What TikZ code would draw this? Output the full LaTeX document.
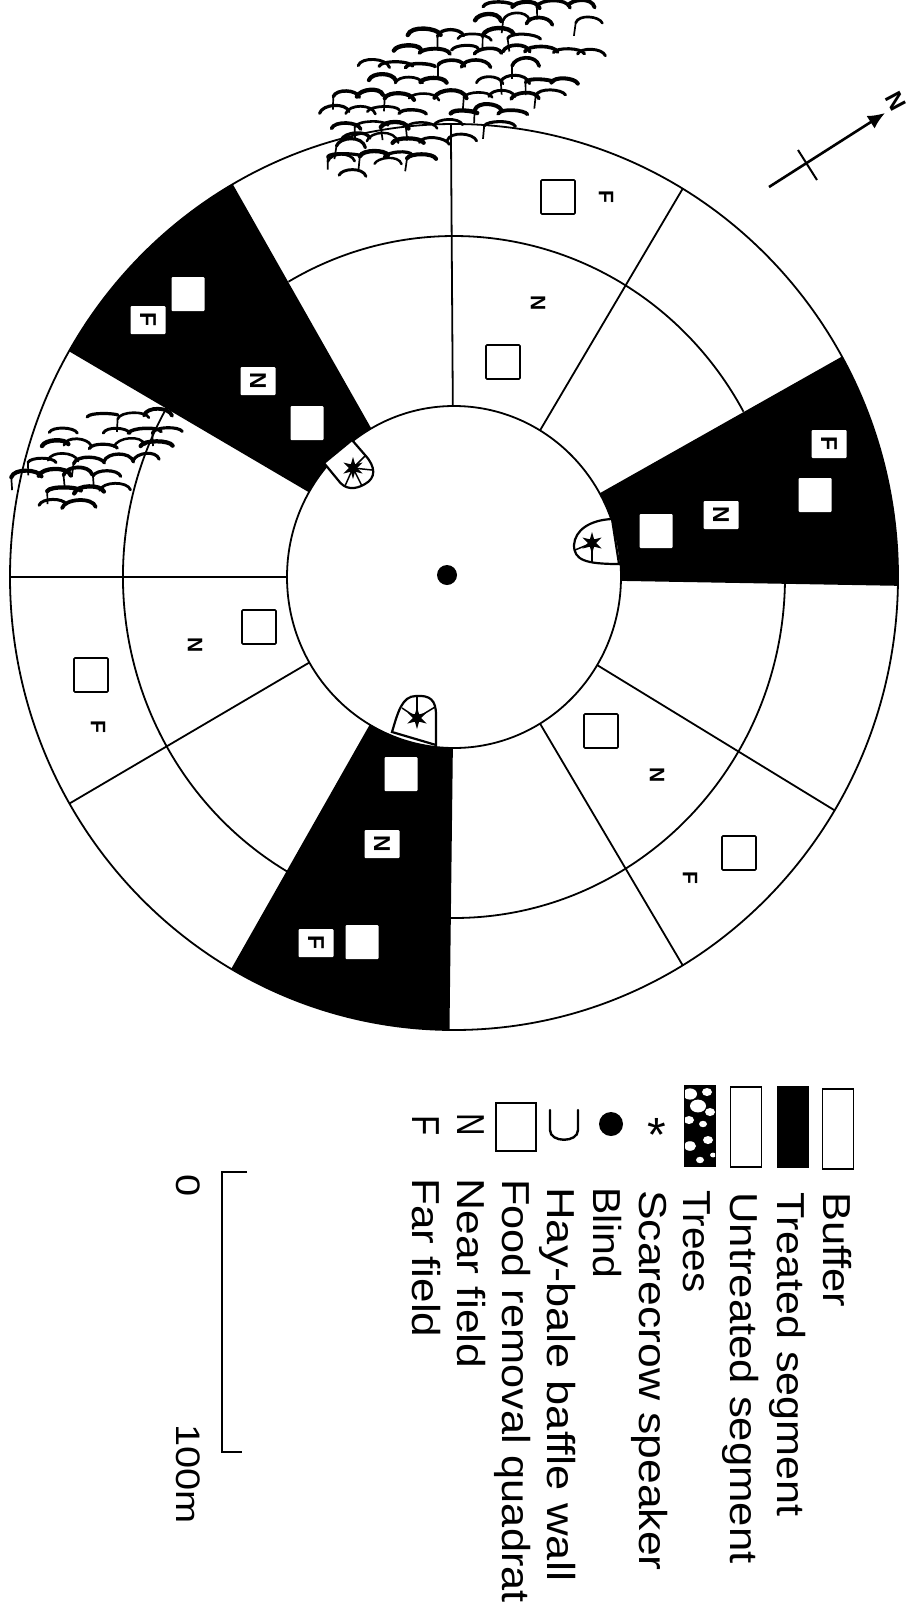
\documentclass[tikz,border=0pt]{standalone}
\usepackage{fontspec}
\setmainfont{Liberation Sans}
\usetikzlibrary{positioning, arrows.meta, shapes.geometric}
\newcommand{\annseg}[2]{% black annular sector between two angles
  \fill (#1:167 and 171) -- (#1:444 and 453)
    arc[start angle=#1, end angle=#2, x radius=444, y radius=453]
    -- (#2:167 and 171)
    arc[start angle=#2, end angle=#1, x radius=167, y radius=171] -- cycle;}
\newcommand{\treeclump}[5]{% centre x, centre y, long, short, angle
  \begin{scope}[shift={(#1,#2)}]
  \foreach \r in {-6,...,6}{
    \foreach \c in {-7,...,7}{
      \pgfmathsetmacro{\u}{26*\c+13*mod(abs(\r),2)}
      \pgfmathsetmacro{\v}{15*\r}
      \pgfmathsetmacro{\ca}{(\u*cos(#5)+\v*sin(#5))/#3}
      \pgfmathsetmacro{\cb}{(-\u*sin(#5)+\v*cos(#5))/#4}
      \pgfmathtruncatemacro{\inside}{(\ca*\ca+\cb*\cb<1)?1:0}
      \pgfmathtruncatemacro{\kind}{7*rnd}
      \ifnum\inside=1
      \ifnum\kind>0
        \pgfmathsetmacro{\ux}{\u+3*rand}
        \pgfmathsetmacro{\vy}{\v+2*rand}
        \pgfmathsetmacro{\wid}{13+4*rnd}
        \pgfmathsetmacro{\rise}{5+5*rnd}
        \pgfmathsetmacro{\lw}{2.4+2*rnd}
        \draw[line width=\lw, line cap=round]
          (\ux-\wid,\vy) .. controls (\ux-\wid+3,\vy+\rise) and (\ux+\wid-3,\vy+\rise+3*rand) .. (\ux+\wid,\vy+2*rand);
        \ifnum\kind<3
          \draw[line width=1.7] (\ux-\wid,\vy) -- (\ux-\wid+2*rand,\vy-13);
        \fi
      \fi
      \fi
    }
  }
  \end{scope}}
\begin{document}
\begin{tikzpicture}[x=1pt, y=1pt,
  ringline/.style={line width=1.8pt},
  quadrat/.style={draw, line width=1.7pt, rounded corners=1pt, minimum width=34pt, minimum height=34pt, inner sep=0pt},
  whitequad/.style={fill=white, rounded corners=1pt, minimum width=33pt, minimum height=34pt, inner sep=0pt},
  tile/.style={fill=white, rounded corners=1pt, inner sep=0pt, rotate=-90, font=\fontsize{23}{23}\selectfont\bfseries, minimum width=28pt, minimum height=35pt},
  fieldlab/.style={inner sep=0pt, rotate=-90, font=\fontsize{21}{21}\selectfont\bfseries},
  blindwall/.style={draw, fill=white, line width=2.2pt},
  speaker/.style={star, star points=6, star point ratio=2.6, fill=black, minimum size=22pt, inner sep=0pt},
  legtext/.style={anchor=base west, inner sep=0pt, rotate=-90, transform shape, font=\fontsize{39}{39}\selectfont},
  swatch/.style={draw, line width=1.8pt, minimum width=31pt, minimum height=80pt, inner sep=0pt}]
\path[use as bounding box, fill=white] (0,-1609) rectangle (907,0);

% rings and segments
\begin{scope}[shift={(454,-577)}]
\annseg{120}{150}
\annseg{-1}{29}
\annseg{240}{269.3}
\foreach \a in {90.4,120,150,180,210,240,269.3,301,329,359,29,59}
  \draw[ringline] (\a:167 and 171) -- (\a:444 and 453);
\draw[ringline] (0,0) circle[x radius=444, y radius=453];
\draw[ringline] (0,0) circle[x radius=167, y radius=171];
\draw[ringline] (240:331 and 341) arc[start angle=240, end angle=150, x radius=331, y radius=341];
\draw[ringline] (120:331 and 341) arc[start angle=120, end angle=29, x radius=331, y radius=341];
\draw[ringline] (-1:331 and 341) arc[start angle=-1, end angle=-90.7, x radius=331, y radius=341];
\end{scope}
\node[circle, fill=black, minimum size=20pt, inner sep=0pt] (blind) at (447,-575) {};

% blinds with speakers
\draw[blindwall] (352,-440) -- (365,-455) .. controls (376,-467) and (376,-478) .. (365,-484)
  .. controls (355,-490) and (345,-490) .. (338,-480) -- (324,-463) -- cycle;
\node[speaker] (spka) at (353,-468) {};
\foreach \e in {(366,-455),(372,-470),(362,-486),(345,-486)}
  \draw[line width=1.5pt] (spka.center) -- \e;
\draw[blindwall] (612,-519) .. controls (590,-520) and (575,-530) .. (574,-545)
  .. controls (574,-560) and (585,-564) .. (619,-564) -- cycle;
\node[speaker] (spkb) at (592,-543) {};
\foreach \e in {(575,-550),(592,-562)}
  \draw[line width=1.5pt] (spkb.center) -- \e;
\draw[blindwall] (392,-732) .. controls (398,-712) and (402,-696) .. (416,-696)
  .. controls (430,-695) and (436,-700) .. (436,-715) -- (436,-745) -- cycle;
\node[speaker] (spkc) at (417,-718) {};
\foreach \e in {(417,-697),(402,-708),(435,-707)}
  \draw[line width=1.5pt] (spkc.center) -- \e;

% quadrats and field letters
\node[quadrat] (qa) at (558,-197) {};
\node[fieldlab] (fa) at (606,-197) {F};
\node[fieldlab] (na) at (538,-303) {N};
\node[quadrat] (qb) at (503,-362) {};
\node[quadrat] (qc) at (259,-627) {};
\node[fieldlab] (nb) at (195,-645) {N};
\node[quadrat] (qd) at (91,-675) {};
\node[fieldlab] (fb) at (98,-727) {F};
\node[quadrat] (qe) at (601,-731) {};
\node[fieldlab] (nc) at (657,-775) {N};
\node[quadrat] (qf) at (739,-853) {};
\node[fieldlab] (fc) at (690,-878) {F};
\node[whitequad] (wa) at (188,-294) {};
\node[whitequad] (wb) at (307,-423) {};
\node[whitequad] (wc) at (815,-495) {};
\node[whitequad] (wd) at (656,-531) {};
\node[whitequad] (we) at (401,-774) {};
\node[whitequad] (wf) at (362,-942) {};
\node[tile] (tfa) at (148,-320) {F};
\node[tile] (tna) at (258,-381) {N};
\node[tile] (tfb) at (829,-444) {F};
\node[tile] (tnb) at (721,-515) {N};
\node[tile] (tnc) at (382,-844) {N};
\node[tile] (tfc) at (316,-943) {F};

% trees
\pgfmathsetseed{41}
\treeclump{462}{-82}{150}{62}{25}
\treeclump{365}{-162}{38}{28}{0}
\treeclump{92}{-462}{90}{45}{25}

% north arrow
\coordinate (tail) at (769,-187);
\coordinate (tip) at (885,-113);
\coordinate (crossa) at (798,-150);
\coordinate (crossb) at (817,-180);
\draw[line width=2.6pt, -{Latex[length=17pt,width=15pt]}] (tail) -- (tip);
\draw[line width=2pt] (crossa) -- (crossb);
\node[inner sep=0pt, rotate=-62, font=\fontsize{24}{24}\selectfont\bfseries] (north) at (896,-101) {N};

% legend
\node[swatch] (buffer) at (838,-1129) {};
\node[swatch, fill=black] (treated) at (793,-1127) {};
\node[swatch] (untreated) at (746,-1127) {};
\node[swatch, fill=black] (trees) at (700,-1126) {};
\begin{scope}
\clip (685,-1166) rectangle (715,-1086);
\foreach \x/\y/\r in {690/-1094/7,707/-1092/5,698/-1106/8,710/-1112/5,689/-1120/5,703/-1124/4,690/-1146/6,708/-1140/5,700/-1160/4,713/-1155/3}
  \fill[white] (\x,\y) circle[x radius=\r, y radius=\r*0.8];
\end{scope}
\node[inner sep=0pt, font=\fontsize{48}{48}\selectfont] (legstar) at (657,-1135) {*};
\node[circle, fill=black, minimum size=24pt, inner sep=0pt] (legblind) at (611,-1124) {};
\draw[line width=2.4pt, line cap=round] (578,-1110) -- (578,-1130) .. controls (578,-1143) and (550,-1143) .. (550,-1130) -- (550,-1110);
\node[draw, line width=1.7pt, minimum width=40pt, minimum height=48pt, inner sep=0pt] (legquad) at (516,-1127) {};
\node[legtext, xscale=0.8] (nkey) at (457,-1113) {N};
\node[legtext, xscale=0.85] (fkey) at (412,-1115) {F};
\node[legtext, xscale=1.115] (tbuffer) at (823,-1192) {Buffer};
\node[legtext, xscale=1.105] (ttreated) at (777,-1192) {Treated segment};
\node[legtext, xscale=1.12] (tuntreated) at (730,-1192) {Untreated segment};
\node[legtext, xscale=1.04] (ttrees) at (683,-1190) {Trees};
\node[legtext, xscale=1.14] (tscare) at (639,-1190) {Scarecrow speaker};
\node[legtext, xscale=1.05] (tblind) at (593,-1187) {Blind};
\node[legtext, xscale=1.16] (thay) at (547,-1187) {Hay-bale baffle wall};
\node[legtext, xscale=1.11] (tfood) at (502,-1179) {Food removal quadrat};
\node[legtext, xscale=1.14] (tnear) at (457,-1178) {Near field};
\node[legtext, xscale=1.13] (tfar) at (412,-1178) {Far field};

% scale bar
\coordinate (zero) at (222,-1172);
\coordinate (hundred) at (222,-1452);
\draw[line width=1.2pt] (247,-1172) -- (zero) -- (hundred) -- (242,-1452);
\node[legtext, font=\fontsize{34}{34}\selectfont, xscale=1.17] (tzero) at (176,-1174) {0};
\node[legtext, font=\fontsize{34}{34}\selectfont, xscale=1.17] (thundred) at (176,-1424) {100m};
\end{tikzpicture}
\end{document}
